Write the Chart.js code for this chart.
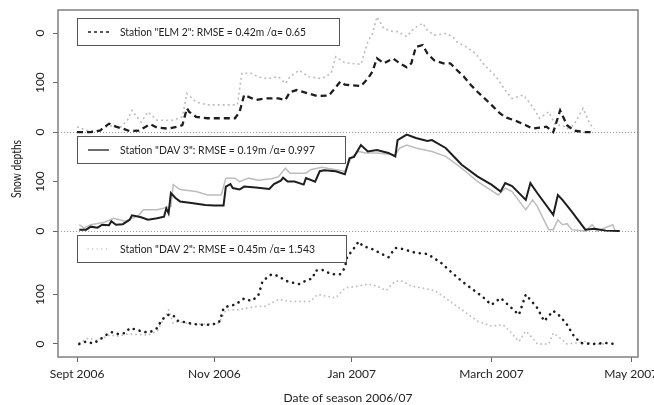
<!DOCTYPE html>
<html>
<head>
<meta charset="utf-8">
<script src="https://cdn.jsdelivr.net/npm/chart.js@4.4.0/dist/chart.umd.min.js"></script>
<style>
  html, body { margin: 0; padding: 0; background: #fff; }
  #wrap { width: 654px; height: 405px; position: relative; }
</style>
</head>
<body>
<div id="wrap"><canvas id="snowChart"></canvas></div>
<script>
// x = days after 1 Sept 2006, y = snow depth (cm)
const elm2SimDays = [0,6,10,14,17,20,23,27,30,32,35,40,44,46,48,49,52,57,64,69,71,73,78,82,88,91,93,96,101,105,110,112,115,117,124,127,129,131,134,138,141,144,146,148,151,153,156,160,163,166,169,172,175,178,181,184,187,191,196,199,202,205,208,211,214,217,222,226];
const elm2Sim = [0,0,3,17,11,7,2,3,11,16,9,7,11,14,48,41,31,28,28,28,41,75,65,68,68,65,81,85,78,73,74,85,102,96,93,108,122,149,139,149,139,131,139,172,176,159,145,139,139,125,112,95,81,68,55,41,30,24,14,7,9,11,0,44,14,3,0,0];
const elm2ObsDays = [0,5,9,14,19,22,24,28,31,35,42,46,48,52,57,67,70,72,76,79,83,88,91,93,97,101,107,111,113,117,124,127,129,131,134,138,140,144,147,151,153,156,161,164,166,170,174,178,183,187,190,195,199,202,206,209,212,214,217,221,224,226];
const elm2Obs = [11,2,3,13,10,24,44,20,41,24,24,31,78,61,55,55,55,119,119,112,108,112,98,112,125,112,108,119,152,140,137,182,199,233,209,203,203,193,209,220,206,196,199,193,182,172,159,135,112,85,68,75,51,28,41,14,14,7,14,48,16,7];

const dav3SimDays = [1,4,6,9,11,14,15,17,20,23,24,28,31,35,38,39,40,41,43,45,50,56,60,64,65,67,68,71,73,78,84,86,89,90,92,95,99,100,104,106,108,113,117,119,121,124,127,131,136,139,140,144,148,153,155,161,168,175,181,185,187,190,196,198,201,208,210,212,216,222,226,231,237];
const dav3Sim = [3,3,9,7,13,12,20,13,14,23,32,28,23,26,29,46,36,77,67,60,57,53,52,52,90,95,87,84,90,88,85,95,102,108,100,100,94,107,100,121,123,121,115,147,150,174,161,164,158,151,184,195,188,182,184,168,134,110,94,80,97,91,63,97,77,33,73,63,40,3,5,1,0];
const dav3ObsDays = [1,3,6,12,16,21,27,29,35,41,42,45,52,57,63,65,69,71,75,79,85,88,91,93,100,102,107,113,117,120,123,126,131,139,141,144,148,155,161,168,175,184,187,190,196,199,201,206,208,210,212,214,216,222,225,227,234,235,237];
const dav3Obs = [13,6,13,18,26,20,32,43,43,50,94,84,80,73,73,107,107,100,107,103,106,110,127,117,117,124,129,124,121,150,161,158,158,154,168,174,168,161,151,127,100,73,87,80,43,63,50,3,3,23,13,15,3,0,13,0,13,0,0];

const dav2SimDays = [1,4,7,10,13,15,18,21,23,26,29,32,35,37,40,42,44,47,50,53,56,59,62,63,64,67,69,73,76,79,80,81,85,88,91,93,97,100,103,104,107,111,115,117,118,120,123,125,128,133,136,139,142,148,153,159,164,168,172,177,181,185,189,193,196,201,204,208,211,214,217,220,225,231,235];
const dav2Sim = [0,5,1,9,19,24,20,22,32,29,24,24,32,49,59,58,47,44,41,39,39,39,44,56,73,78,79,92,87,96,110,127,141,137,128,125,121,128,133,148,150,141,141,154,177,187,207,197,194,182,175,194,192,184,182,164,143,127,113,96,79,93,76,59,100,73,46,67,56,39,16,2,0,2,0];
const dav2ObsDays = [1,5,9,14,18,22,27,31,35,40,42,44,50,56,62,65,70,79,82,88,93,102,105,113,117,123,127,131,135,139,142,146,152,156,160,165,169,175,181,186,189,193,196,199,201,206,208,211,214,218,222,225,231];
const dav2Obs = [2,12,7,18,16,20,19,18,26,69,42,45,40,40,42,69,69,76,76,90,86,86,100,93,113,117,121,117,108,127,127,117,112,108,96,79,66,46,36,39,26,5,26,12,0,0,22,12,0,2,5,0,0];

const legendTexts = [
  'Station "ELM 2": RMSE = 0.42m /\u03b1= 0.65',
  'Station "DAV 3": RMSE = 0.19m /\u03b1= 0.997',
  'Station "DAV 2": RMSE = 0.45m /\u03b1= 1.543'
];
const xTickValues = [0, 60, 120, 181, 242];
const xTickLabels = ['Sept 2006', 'Nov 2006', 'Jan 2007', 'March 2007', 'May 2007'];
// panels share one y axis, each shifted up by its offset
const panelOffsets = [428, 228, 0];
const yTickValues = [0, 100, 228, 328, 428, 528, 628];
const yTickLabels = ['0', '100', '0', '100', '0', '100', '0'];

const FONT = 'Lato, "Noto Sans", sans-serif';

function series(days, vals, offset) {
  return days.map((d, i) => ({ x: d, y: vals[i] + offset }));
}

const dark = '#1e1e1e';
const light = '#bdbdbd';

const datasets = [
  { data: series(elm2SimDays, elm2Sim, panelOffsets[0]), borderColor: dark, borderWidth: 2.3, borderDash: [6, 4], order: 0 },
  { data: series(elm2ObsDays, elm2Obs, panelOffsets[0]), borderColor: light, borderWidth: 1.6, borderDash: [2, 3], order: 1 },
  { data: series(dav3SimDays, dav3Sim, panelOffsets[1]), borderColor: dark, borderWidth: 2, order: 0 },
  { data: series(dav3ObsDays, dav3Obs, panelOffsets[1]), borderColor: light, borderWidth: 1.5, order: 1 },
  { data: series(dav2SimDays, dav2Sim, panelOffsets[2]), borderColor: dark, borderWidth: 2.6, borderDash: [0.1, 6], borderCapStyle: 'round', order: 0 },
  { data: series(dav2ObsDays, dav2Obs, panelOffsets[2]), borderColor: light, borderWidth: 1.8, borderDash: [0.1, 4.5], borderCapStyle: 'round', order: 1 }
];
// which dataset each legend box shows (sample drawn thinner, as in the original)
const legendSets = [0, 2, 5];

const decor = {
  id: 'decor',
  afterDatasetsDraw(chart) {
    const ctx = chart.ctx;
    const a = chart.chartArea;
    const boxes = [
      { top: 18, w: 262, tw: 186 },
      { top: 136, w: 268, tw: 195 },
      { top: 235, w: 269, tw: 195 }
    ];
    ctx.save();
    boxes.forEach((b, i) => {
      const x0 = a.left + 19;
      const h = 27;
      ctx.fillStyle = '#fff';
      ctx.fillRect(x0, b.top, b.w, h);
      ctx.strokeStyle = '#555';
      ctx.lineWidth = 1;
      ctx.setLineDash([]);
      ctx.strokeRect(x0 + 0.5, b.top + 0.5, b.w, h);
      const ds = chart.data.datasets[legendSets[i]];
      const cy = b.top + h / 2 + 0.5;
      ctx.beginPath();
      ctx.strokeStyle = ds.borderColor;
      ctx.lineWidth = Math.min(ds.borderWidth, 1.3);
      ctx.lineCap = ds.borderCapStyle || 'butt';
      ctx.setLineDash(i === 0 ? [3, 3] : (ds.borderDash || []));
      ctx.moveTo(x0 + 11, cy);
      ctx.lineTo(x0 + 32, cy);
      ctx.stroke();
      ctx.setLineDash([]);
      ctx.fillStyle = '#222';
      ctx.font = '11.5px ' + FONT;
      ctx.textAlign = 'left';
      ctx.textBaseline = 'middle';
      ctx.fillText(legendTexts[i], x0 + 43, cy, b.tw);
    });
    ctx.restore();
  },
  afterDraw(chart) {
    const ctx = chart.ctx;
    const a = chart.chartArea;
    const xs = chart.scales.x, ys = chart.scales.y;
    ctx.save();
    ctx.strokeStyle = '#808080';
    ctx.lineWidth = 1.5;
    ctx.strokeRect(a.left, a.top, a.right - a.left, a.bottom - a.top);
    ctx.fillStyle = '#222';
    ctx.font = '12px ' + FONT;
    ctx.textAlign = 'center';
    ctx.textBaseline = 'middle';
    xTickValues.forEach((v, i) => {
      ctx.fillText(xTickLabels[i], xs.getPixelForValue(v), 374);
    });
    yTickValues.forEach((v, i) => {
      ctx.save();
      ctx.translate(40, ys.getPixelForValue(v));
      ctx.rotate(-Math.PI / 2);
      ctx.fillText(yTickLabels[i], 0, 0);
      ctx.restore();
    });
    ctx.save();
    ctx.translate(17, 169);
    ctx.rotate(-Math.PI / 2);
    ctx.font = '12.5px ' + FONT;
    ctx.fillText('Snow depths', 0, 0, 58);
    ctx.restore();
    ctx.restore();
  }
};

new Chart(document.getElementById('snowChart'), {
  type: 'line',
  data: { datasets: datasets.map(d => Object.assign({ pointRadius: 0, tension: 0, fill: false }, d)) },
  plugins: [decor],
  options: {
    responsive: true,
    maintainAspectRatio: false,
    animation: false,
    layout: { padding: { left: 53, top: 10, right: 16, bottom: 0 } },
    plugins: { legend: { display: false }, tooltip: { enabled: false } },
    scales: {
      x: {
        type: 'linear',
        min: -8.3,
        max: 245,
        afterBuildTicks: s => { s.ticks = xTickValues.map(v => ({ value: v })); },
        ticks: { display: false },
        grid: { drawOnChartArea: false, drawTicks: true, tickLength: 5, tickColor: '#666', tickWidth: 1 },
        border: { display: false },
        title: {
          display: true,
          text: 'Date of season 2006/07',
          color: '#222',
          font: { family: FONT, size: 12 },
          padding: { top: 28.6, bottom: 0 }
        }
      },
      y: {
        type: 'linear',
        min: -26.3,
        max: 674.7,
        afterBuildTicks: s => { s.ticks = yTickValues.map(v => ({ value: v })); },
        ticks: { display: false },
        grid: {
          drawOnChartArea: true,
          drawTicks: true,
          tickLength: 5,
          tickColor: '#666',
          tickWidth: 1,
          tickBorderDash: [],
          lineWidth: 1,
          color: c => (c.tick && (c.tick.value === 228 || c.tick.value === 428)) ? '#999' : 'rgba(0,0,0,0)'
        },
        // v4 takes the grid line dash from border.dash
        border: { display: false, dash: [1, 2] }
      }
    }
  }
});
</script>
</body>
</html>
